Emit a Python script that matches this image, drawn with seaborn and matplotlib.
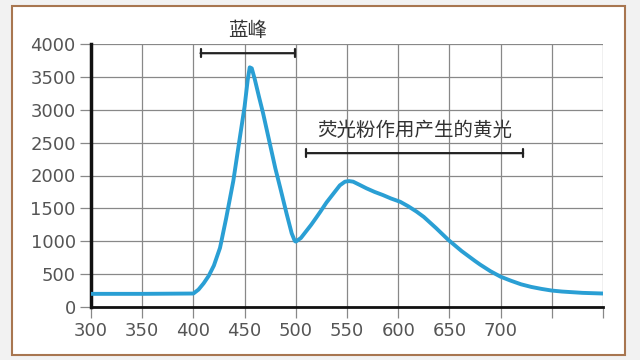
import matplotlib
matplotlib.use("Agg")
import matplotlib.pyplot as plt
from matplotlib.patches import Rectangle
import seaborn as sns
import pandas as pd

wavelength = [300, 350, 400, 405, 410, 415, 420, 426, 432, 439, 445, 450, 453, 455, 457,
              460, 464, 468, 472, 476, 480, 485, 491, 496, 499, 500, 505, 510, 515, 520,
              524, 530, 537, 543, 548, 552, 556, 562, 569, 577, 585, 593, 602, 610, 618,
              625, 637, 649, 662, 675, 680, 690, 700, 710, 720, 730, 740, 750, 760, 770,
              780, 790, 800]
intensity = [200, 200, 205, 265, 360, 475, 630, 900, 1350, 1920, 2540, 3050, 3450, 3645, 3630,
             3460, 3200, 2950, 2670, 2390, 2110, 1800, 1420, 1120, 1005, 995, 1050, 1150, 1250, 1360,
             1450, 1590, 1730, 1850, 1906, 1915, 1906, 1860, 1805, 1750, 1703, 1650, 1600, 1530, 1450,
             1370, 1200, 1020, 850, 700, 645, 545, 461, 400, 345, 305, 275, 250, 235, 225,
             215, 210, 205]
x_ticks = [300, 350, 400, 450, 500, 550, 600, 650, 700, 750, 800]
x_labels = ["300", "350", "400", "450", "500", "550", "600", "650", "700", "", ""]
y_ticks = [0, 500, 1000, 1500, 2000, 2500, 3000, 3500, 4000]
blue_label = "蓝峰"
blue_span = [407, 499]
blue_y = 3860
yellow_label = "荧光粉作用产生的黄光"
yellow_span = [510, 722]
yellow_y = 2340

sns.set_theme(style="white")
plt.rcParams['font.family'] = ['Noto Sans CJK SC', 'DejaVu Sans']

df = pd.DataFrame({"wavelength": wavelength, "intensity": intensity})

fig = plt.figure(figsize=(6.4, 3.6), dpi=100, facecolor="#f2f2f2")
fig.patches.append(Rectangle((12 / 640, 1 - 355 / 360), (625 - 12) / 640, (355 - 6) / 360,
                             transform=fig.transFigure, facecolor="white",
                             edgecolor="#a87650", linewidth=1.5, zorder=-10))
ax = fig.add_axes([91 / 640, 1 - 307 / 360, (603 - 91) / 640, (307 - 44) / 360])
ax.set_zorder(5)
ax.set_facecolor("white")

sns.lineplot(data=df, x="wavelength", y="intensity", ax=ax, color="#2a9fd4", linewidth=2.8, zorder=3)

ax.set_xlim(300, 800)
ax.set_ylim(0, 4000)
ax.set_xticks(x_ticks)
ax.set_xticklabels(x_labels)
ax.set_yticks(y_ticks)
ax.grid(True, color="#888888", linewidth=0.9)
ax.set_axisbelow(True)
ax.set_xlabel("")
ax.set_ylabel("")
for s in ["top", "right"]:
    ax.spines[s].set_visible(False)
ax.spines["left"].set_linewidth(2.5)
ax.spines["left"].set_color("#111111")
ax.spines["bottom"].set_linewidth(2.0)
ax.spines["bottom"].set_color("#111111")
ax.tick_params(axis="both", which="both", length=8, width=0.9, color="#888888",
               labelsize=13, labelcolor="#555555", pad=3)
ax.tick_params(axis="x", direction="out", bottom=True)
ax.tick_params(axis="y", direction="out", left=True)
for lab in ax.get_xticklabels() + ax.get_yticklabels():
    lab.set_family(["DejaVu Sans"])

ax.annotate("", xy=(blue_span[0], blue_y), xytext=(blue_span[1], blue_y),
            arrowprops=dict(arrowstyle="|-|", color="#222222", lw=1.6, mutation_scale=3,
                            shrinkA=0, shrinkB=0), annotation_clip=False)
ax.text(sum(blue_span) / 2, 4210, blue_label, ha="center", va="center", fontsize=14,
        color="#333333", clip_on=False)
ax.annotate("", xy=(yellow_span[0], yellow_y), xytext=(yellow_span[1], yellow_y),
            arrowprops=dict(arrowstyle="|-|", color="#222222", lw=1.6, mutation_scale=3,
                            shrinkA=0, shrinkB=0), annotation_clip=False)
ax.text(sum(yellow_span) / 2, 2680, yellow_label, ha="center", va="center", fontsize=14,
        color="#333333")

fig.savefig("out.png", dpi=100, facecolor=fig.get_facecolor())
